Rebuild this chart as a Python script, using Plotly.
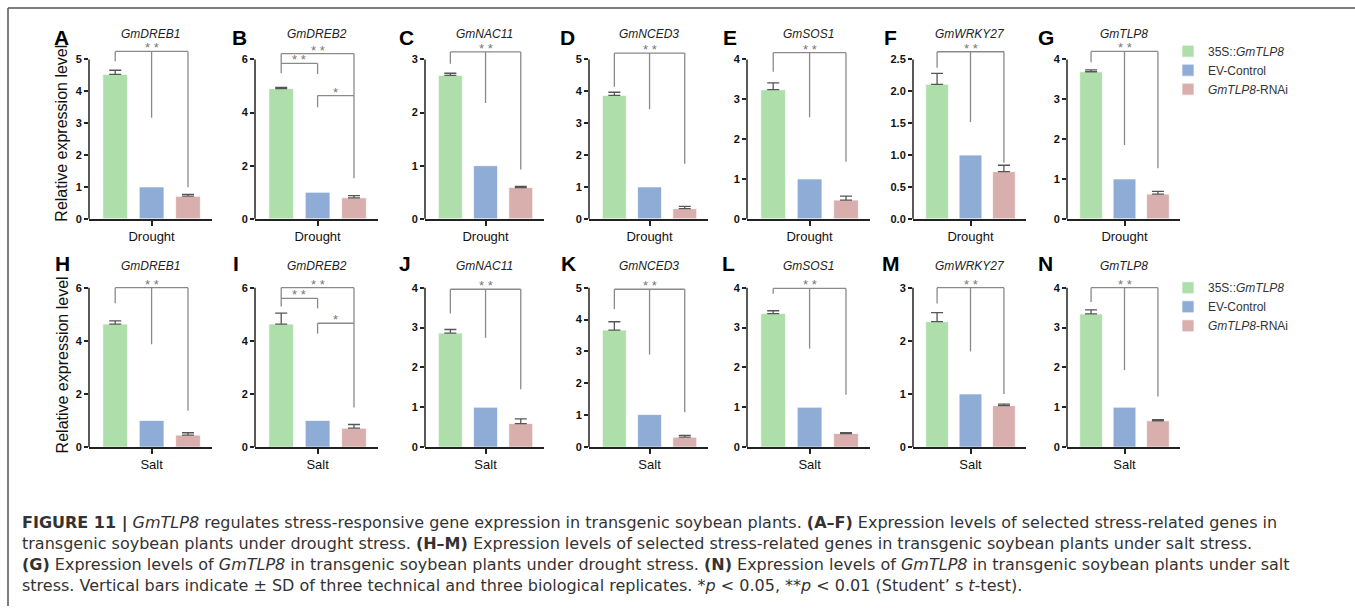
import plotly.graph_objects as go

W, H = 1355, 612

# ---------------- data ----------------
genes = ["GmDREB1", "GmDREB2", "GmNAC11", "GmNCED3", "GmSOS1", "GmWRKY27", "GmTLP8"]
labels_drought = ["A", "B", "C", "D", "E", "F", "G"]
labels_salt = ["H", "I", "J", "K", "L", "M", "N"]
series_names = ["35S::<i>GmTLP8</i>", "EV-Control", "<i>GmTLP8</i>-RNAi"]
conditions = ["Drought", "Salt"]

drought_oe = [4.53, 4.90, 2.70, 3.87, 3.24, 2.11, 3.69]
drought_oe_sd = [0.13, 0.05, 0.04, 0.10, 0.17, 0.17, 0.05]
drought_ev = [1.0, 1.0, 1.0, 1.0, 1.0, 1.0, 1.0]
drought_rnai = [0.71, 0.79, 0.59, 0.32, 0.47, 0.74, 0.62]
drought_rnai_sd = [0.06, 0.08, 0.02, 0.07, 0.10, 0.10, 0.07]

salt_oe = [4.63, 4.63, 2.86, 3.67, 3.35, 2.36, 3.34]
salt_oe_sd = [0.12, 0.41, 0.09, 0.26, 0.07, 0.17, 0.10]
salt_ev = [1.0, 1.0, 1.0, 1.02, 1.0, 1.0, 1.0]
salt_rnai = [0.45, 0.71, 0.59, 0.31, 0.34, 0.78, 0.66]
salt_rnai_sd = [0.09, 0.14, 0.12, 0.06, 0.02, 0.03, 0.03]

drought_ymax = [5, 6, 3, 5, 4, 2.5, 4]
drought_ystep = [1, 2, 1, 1, 1, 0.5, 1]
salt_ymax = [6, 6, 4, 5, 4, 3, 4]
salt_ystep = [2, 2, 1, 1, 1, 1, 1]

# significance brackets: (level, green end, blue end, pink end)
drought_sig = [(5.25, 4.94, 3.17, 0.99), None, (3.14, 2.92, 2.18, 0.93),
               (5.20, 4.14, 3.44, 1.73), (4.17, 3.69, 2.55, 1.43),
               (2.62, 2.37, 1.52, 0.88), (4.20, 3.93, 1.85, 1.27)]
salt_sig = [(6.0, 5.41, 3.87, 1.37), None, (3.96, 3.35, 2.74, 1.45),
            (4.95, 4.33, 2.90, 1.09), (3.98, 3.85, 2.47, 1.31),
            (3.0, 2.70, 1.80, 1.0), (4.0, 3.64, 1.93, 1.27)]
# GmDREB2 three-bracket layout: (top, g-b level, g end, b end, b-p level, b end2, p end)
drought_dreb2_sig = (6.22, 5.85, 5.48, 5.45, 4.64, 4.20, 1.53)
salt_dreb2_sig = (6.0, 5.60, 5.29, 5.22, 4.66, 4.27, 1.49)

colors = ["#aedfab", "#8eacd5", "#d9afae"]

# ---------------- layout geometry ----------------
col_left = [89, 255, 425, 589, 747, 913, 1067]
col_right = [212, 378, 544, 708, 870, 1026, 1180]
row_zero = [221, 451.5]
row_top = [60, 290.5]
HEAD = 1.08
XR = [-0.72, 2.66]
FONT = "Liberation Sans, Arial, sans-serif"
CAPFONT = "DejaVu Sans, sans-serif"
LINEC = "#222222"
BRC = "#8a8a8a"

fig = go.Figure()
layout = {}
shapes = []
annotations = []

rows = [
    (drought_oe, drought_oe_sd, drought_ev, drought_rnai, drought_rnai_sd,
     drought_ymax, drought_ystep, drought_sig, drought_dreb2_sig),
    (salt_oe, salt_oe_sd, salt_ev, salt_rnai, salt_rnai_sd,
     salt_ymax, salt_ystep, salt_sig, salt_dreb2_sig),
]


def px_x(x):
    return x / W


def px_y(y):
    return 1 - y / H


for r, (oe, oe_sd, ev, rn, rn_sd, ymaxs, ysteps, sigs, dreb2) in enumerate(rows):
    for c in range(7):
        n = r * 7 + c + 1
        xs = "x" if n == 1 else f"x{n}"
        ys = "y" if n == 1 else f"y{n}"
        xk = "xaxis" if n == 1 else f"xaxis{n}"
        yk = "yaxis" if n == 1 else f"yaxis{n}"
        vals = [oe[c], ev[c], rn[c]]
        errs = [oe_sd[c], None, rn_sd[c]]
        for i in range(3):
            tr = dict(
                x=[i], y=[vals[i]], width=0.68, name=series_names[i],
                marker=dict(color=colors[i], line=dict(color="rgba(255,255,255,0.7)", width=1)),
                xaxis=xs, yaxis=ys, legendgroup=f"g{i}", showlegend=(c == 0),
                legend="legend" if r == 0 else "legend2", hoverinfo="skip",
            )
            if errs[i] is not None:
                tr["error_y"] = dict(type="data", array=[errs[i]], arrayminus=[0],
                                     symmetric=False, color="#555555", thickness=1.3, width=6)
            fig.add_trace(go.Bar(**tr))

        ymax = ymaxs[c]
        step = ysteps[c]
        nt = int(round(ymax / step))
        tv = [k * step for k in range(nt + 1)]
        tt = [f"{v:.1f}" if step < 1 else f"{int(round(v))}" for v in tv]
        zero = row_zero[r]
        top = row_top[r]
        dom_top = zero - (zero - top) * HEAD
        layout[xk] = dict(
            domain=[px_x(col_left[c]), px_x(col_right[c])], range=XR, anchor=ys,
            showline=True, linecolor=LINEC, linewidth=1.5, showgrid=False, zeroline=False,
            tickmode="array", tickvals=[1], ticktext=[conditions[r]], ticks="outside",
            ticklen=5, tickwidth=1.5, tickcolor=LINEC,
            tickfont=dict(family=FONT, size=13, color="#111"), fixedrange=True,
        )
        layout[yk] = dict(
            domain=[px_y(zero), px_y(dom_top)], range=[0, ymax * HEAD], anchor=xs,
            showline=False, showgrid=False, zeroline=False,
            tickmode="array", tickvals=tv, ticktext=tt, ticks="outside",
            ticklen=4, tickwidth=1.5, tickcolor=LINEC,
            tickfont=dict(family=FONT, size=11, color="#111", weight="bold"), fixedrange=True,
        )
        # y axis line up to the top tick only
        shapes.append(dict(type="line", xref=f"{xs} domain", yref=f"{ys} domain",
                           x0=0, x1=0, y0=0, y1=ymax / (ymax * HEAD),
                           line=dict(color=LINEC, width=1.5)))

        def seg(x0, y0, x1, y1):
            shapes.append(dict(type="line", xref=xs, yref=ys, x0=x0, y0=y0, x1=x1, y1=y1,
                               line=dict(color=BRC, width=1.3)))

        def stars(x, y, t):
            annotations.append(dict(text=t, x=x, y=y, xref=xs, yref=ys, showarrow=False,
                                    yanchor="bottom", yshift=-6,
                                    font=dict(family=FONT, size=13, color="#777")))

        if sigs[c] is not None:
            lv, ge, be, pe = sigs[c]
            seg(0, lv, 2, lv)
            seg(0, lv, 0, ge)
            seg(1, lv, 1, be)
            seg(2, lv, 2, pe)
            stars(1, lv, "* *")
        else:
            tp, gbl, ge, be, bpl, be2, pe = dreb2
            seg(0, tp, 2, tp)
            seg(0, tp, 0, ge)
            seg(0, gbl, 1, gbl)
            seg(1, gbl, 1, be)
            seg(1, bpl, 2, bpl)
            seg(1, bpl, 1, be2)
            seg(2, tp, 2, pe)
            stars(1, tp, "* *")
            stars(0.5, gbl, "* *")
            stars(1.5, bpl, "*")

        # gene title
        title_y = 34 if r == 0 else 269
        annotations.append(dict(text=f"<i>{genes[c]}</i>", x=px_x((col_left[c] + col_right[c]) / 2),
                                y=px_y(title_y), xref="paper", yref="paper", showarrow=False,
                                xanchor="center", yanchor="middle",
                                font=dict(family=FONT, size=12, color="#222")))

label_x = [[61, 240, 406, 567, 730, 890, 1046], [62, 236, 405, 568, 728, 891, 1045]]
label_y = [38, 266]
for r, plabels in enumerate([labels_drought, labels_salt]):
    for c in range(7):
        annotations.append(dict(text=f"<b>{plabels[c]}</b>", x=px_x(label_x[r][c]), y=px_y(label_y[r]),
                                xref="paper", yref="paper", showarrow=False,
                                xanchor="center", yanchor="middle",
                                font=dict(family=FONT, size=21, color="#000")))
    annotations.append(dict(text="Relative expression level", x=px_x(62), y=px_y([135, 369][r]),
                            xref="paper", yref="paper", showarrow=False, textangle=-90,
                            xanchor="center", yanchor="middle",
                            font=dict(family=FONT, size=16, color="#111")))

caption = [
    "<b>FIGURE 11 |</b> <i>GmTLP8</i> regulates stress-responsive gene expression in transgenic soybean plants. "
    "<b>(A–F)</b> Expression levels of selected stress-related genes in",
    "transgenic soybean plants under drought stress. <b>(H–M)</b> Expression levels of selected "
    "stress-related genes in transgenic soybean plants under salt stress.",
    "<b>(G)</b> Expression levels of <i>GmTLP8</i> in transgenic soybean plants under drought stress. "
    "<b>(N)</b> Expression levels of <i>GmTLP8</i> in transgenic soybean plants under salt",
    "stress. Vertical bars indicate ± SD of three technical and three biological replicates. "
    "*<i>p</i> &lt; 0.05, **<i>p</i> &lt; 0.01 (Student’ s <i>t</i>-test).",
]
cap_y = [528, 549, 570, 591]
for t, yy in zip(caption, cap_y):
    annotations.append(dict(text=t, x=px_x(20), y=px_y(yy), xref="paper", yref="paper",
                            showarrow=False, xanchor="left", yanchor="middle",
                            font=dict(family=CAPFONT, size=16, color="#333")))

# frame
shapes.append(dict(type="line", xref="paper", yref="paper", x0=px_x(8), x1=1, y0=px_y(8), y1=px_y(8),
                   line=dict(color="#555", width=1.5)))
shapes.append(dict(type="line", xref="paper", yref="paper", x0=px_x(8), x1=px_x(8), y0=px_y(8), y1=0,
                   line=dict(color="#555", width=1.5)))

leg = dict(xanchor="left", yanchor="top", bgcolor="rgba(0,0,0,0)", tracegroupgap=0,
           font=dict(family=FONT, size=12, color="#333"), itemclick=False, itemdoubleclick=False)
layout["legend"] = dict(leg, x=px_x(1168), y=px_y(37))
layout["legend2"] = dict(leg, x=px_x(1168), y=px_y(276))

fig.update_layout(
    width=W, height=H, margin=dict(l=0, r=0, t=0, b=0),
    paper_bgcolor="white", plot_bgcolor="white", barmode="overlay",
    shapes=shapes, annotations=annotations, **layout,
)

fig.write_html("out.html", config={"displayModeBar": False},
               post_script="document.body.style.margin='0px';")
